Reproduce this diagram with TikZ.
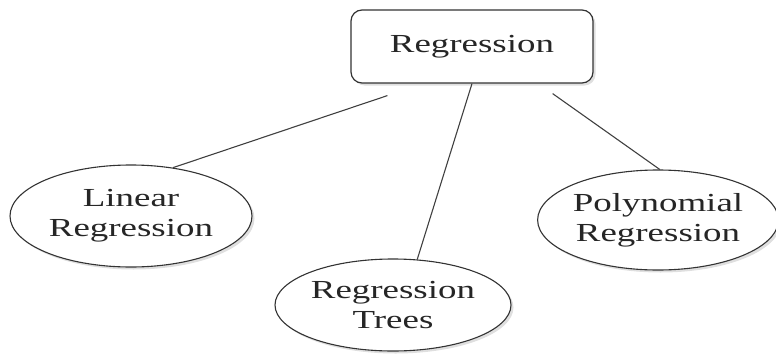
\documentclass[tikz,border=0pt]{standalone}
\usepackage{fontspec}
\setmainfont{Liberation Serif}
\newfontfamily\widefont[FakeStretch=1.42]{Liberation Serif}
\usetikzlibrary{shapes.geometric,shadows}
\begin{document}
\begin{tikzpicture}[x=1pt,y=-1pt,
  every node/.style={font=\widefont\fontsize{26}{30}\selectfont, align=center, text=black!85},
  myshadow/.style={drop shadow={opacity=0.25, shadow xshift=2.5pt, shadow yshift=-2.5pt}},
  topbox/.style={draw=black!80, line width=1.2pt, rounded corners=11pt, fill=white,
     minimum width=242pt, minimum height=73pt, inner sep=0pt, myshadow},
  oval/.style={draw=black!80, line width=1.1pt, ellipse, fill=white, inner sep=0pt, myshadow},
  link/.style={draw=black!75, line width=1.1pt}]
\useasboundingbox (0,0) rectangle (776,356);
\node[topbox] (reg) at (472,46.5) {Regression};
\node[oval, minimum width=242pt, minimum height=102pt] (lin) at (131,216) {Linear\\Regression};
\node[oval, minimum width=236pt, minimum height=92pt] (tre) at (393,305) {Regression\\Trees};
\node[oval, minimum width=232pt, minimum height=100pt] (pol) at (658,220) {Polynomial\\Regression};
\draw[link] ([xshift=37pt,yshift=-12pt]reg.south west) -- (lin.49);
\draw[link] (reg.south) -- (tre.62);
\draw[link] ([xshift=-41pt,yshift=-10pt]reg.south east) -- (pol.88);
\end{tikzpicture}
\end{document}
